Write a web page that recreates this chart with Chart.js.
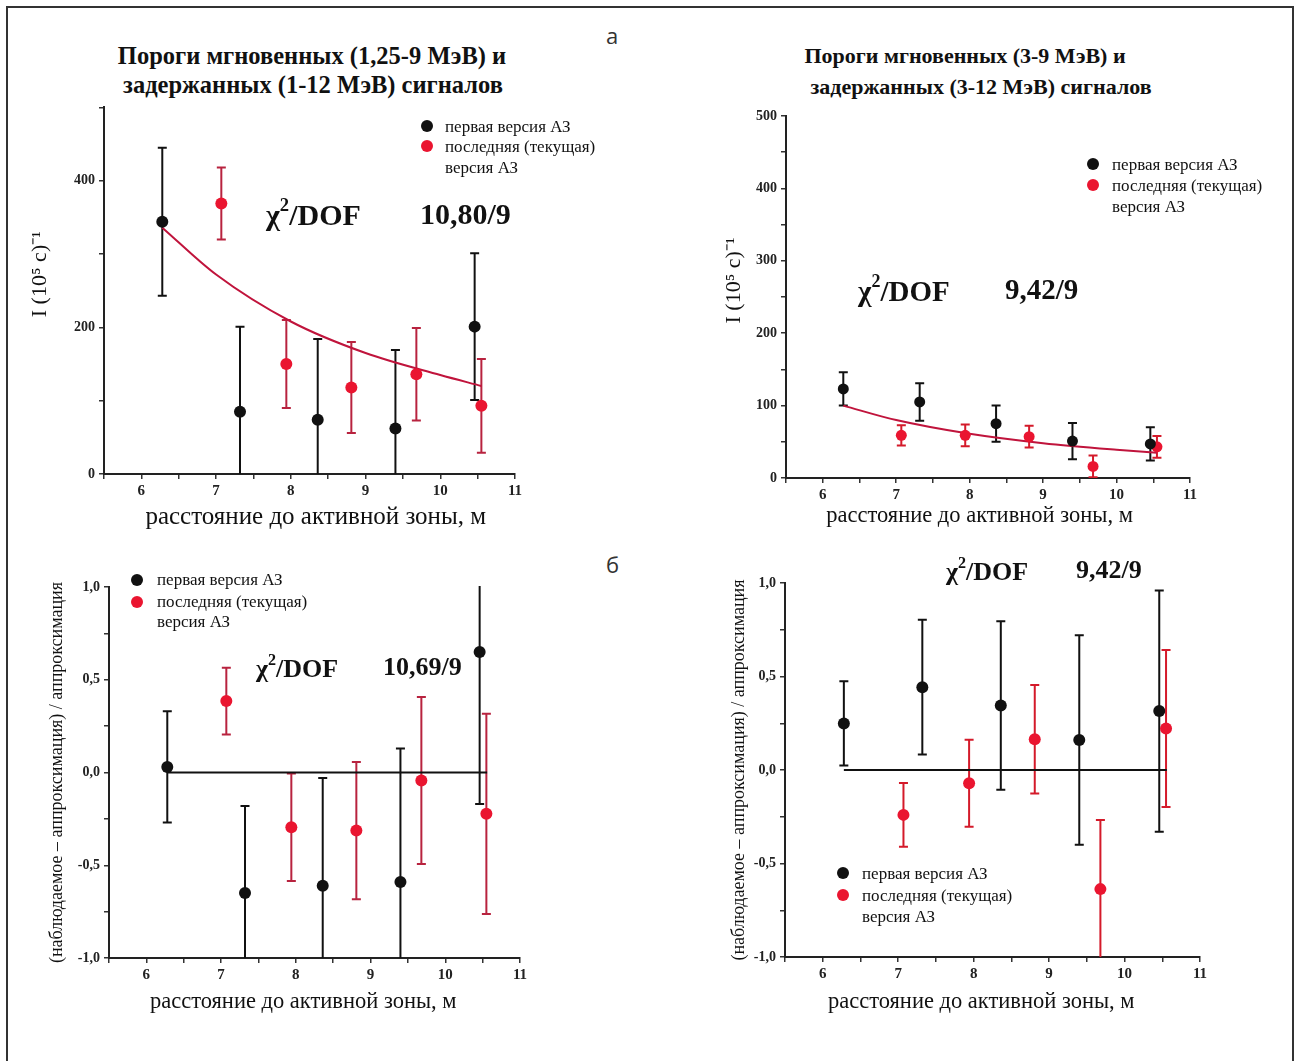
<!DOCTYPE html>
<html lang="ru">
<head>
<meta charset="utf-8">
<script src="https://cdn.jsdelivr.net/npm/chart.js@4.4.1/dist/chart.umd.min.js"></script>
<style>
  body { margin: 0; background: #fff; width: 1297px; height: 1061px; overflow: hidden; position: relative;
         font-family: 'Liberation Serif', 'Times New Roman', serif; }
  .frame { position: absolute; left: 6px; top: 6px; width: 1284px; height: 1100px; border: 2px solid #333; }
  .panel { position: absolute; }
  .txt { position: absolute; white-space: nowrap; color: #111; line-height: 1; }
  .title { font-weight: bold; transform: translateX(-50%); }
  .chi { font-weight: bold; }
  .chi sup { font-size: 0.62em; position: relative; top: -0.15em; }
  .leg { font-size: 17px; }
  .dot { position: absolute; width: 12px; height: 12px; border-radius: 50%; }
  .tag { font-family: 'Open Sans', 'DejaVu Sans', sans-serif; font-size: 22px; color: #333; }
</style>
</head>
<body>
<div class="frame"></div>

<div class="txt tag" style="left:606px;top:24px">а</div>
<div class="txt tag" style="left:606px;top:553px">б</div>

<div class="txt title" style="left:312px;top:44px;font-size:24.5px">Пороги мгновенных (1,25-9 МэВ) и</div>
<div class="txt title" style="left:313px;top:73px;font-size:24.5px">задержанных (1-12 МэВ) сигналов</div>
<div class="txt title" style="left:965px;top:45px;font-size:22px">Пороги мгновенных (3-9 МэВ) и</div>
<div class="txt title" style="left:981px;top:76px;font-size:22px">задержанных (3-12 МэВ) сигналов</div>

<div class="panel" style="left:20px;top:95px"><canvas id="c1" width="520" height="440"></canvas></div>
<div class="panel" style="left:700px;top:100px"><canvas id="c2" width="520" height="440"></canvas></div>
<div class="panel" style="left:20px;top:570px"><canvas id="c3" width="525" height="450"></canvas></div>
<div class="panel" style="left:700px;top:565px"><canvas id="c4" width="525" height="455"></canvas></div>

<!-- chi^2 annotations -->
<div class="txt chi" style="left:266px;top:199px;font-size:30px">χ<sup>2</sup>/DOF</div>
<div class="txt chi" style="left:420px;top:199px;font-size:30px">10,80/9</div>
<div class="txt chi" style="left:858px;top:275px;font-size:29px">χ<sup>2</sup>/DOF</div>
<div class="txt chi" style="left:1005px;top:275px;font-size:29px">9,42/9</div>
<div class="txt chi" style="left:256px;top:654px;font-size:26px">χ<sup>2</sup>/DOF</div>
<div class="txt chi" style="left:383px;top:654px;font-size:26px">10,69/9</div>
<div class="txt chi" style="left:946px;top:557px;font-size:26px">χ<sup>2</sup>/DOF</div>
<div class="txt chi" style="left:1076px;top:557px;font-size:26px">9,42/9</div>

<!-- legends -->
<div class="dot" style="left:421px;top:120px;background:#111"></div>
<div class="dot" style="left:421px;top:140px;background:#ea1530"></div>
<div class="txt leg" style="left:445px;top:118px">первая версия АЗ</div>
<div class="txt leg" style="left:445px;top:138px">последняя (текущая)</div>
<div class="txt leg" style="left:445px;top:159px">версия АЗ</div>

<div class="dot" style="left:1087px;top:158px;background:#111"></div>
<div class="dot" style="left:1087px;top:179px;background:#ea1530"></div>
<div class="txt leg" style="left:1112px;top:156px">первая версия АЗ</div>
<div class="txt leg" style="left:1112px;top:177px">последняя (текущая)</div>
<div class="txt leg" style="left:1112px;top:198px">версия АЗ</div>

<div class="dot" style="left:131px;top:574px;background:#111"></div>
<div class="dot" style="left:131px;top:596px;background:#ea1530"></div>
<div class="txt leg" style="left:157px;top:571px">первая версия АЗ</div>
<div class="txt leg" style="left:157px;top:593px">последняя (текущая)</div>
<div class="txt leg" style="left:157px;top:613px">версия АЗ</div>

<div class="dot" style="left:837px;top:867px;background:#111"></div>
<div class="dot" style="left:837px;top:889px;background:#ea1530"></div>
<div class="txt leg" style="left:862px;top:865px">первая версия АЗ</div>
<div class="txt leg" style="left:862px;top:887px">последняя (текущая)</div>
<div class="txt leg" style="left:862px;top:908px">версия АЗ</div>

<script>
// distances of the detector positions, m
const xFirst = [6.28, 7.32, 8.36, 9.40, 10.46];
const xLast = [7.07, 7.94, 8.81, 9.68, 10.55];

// (a) left: thresholds 1.25-9 / 1-12 MeV
const rateFirstA = [344, 85, 74, 62, 201];
const errFirstA = [101, 116, 110, 107, 100];
const rateLastA = [369, 150, 118, 136, 93];
const errLastA = [49, 60, 62, 63, 64];
const fitXA = [6.28, 7, 8, 9, 10, 10.55];
const fitYA = [336, 272, 208, 165, 135, 120];

// (a) right: thresholds 3-9 / 3-12 MeV
const rateFirstB = [123, 105, 75, 51, 47];
const errFirstB = [23, 26, 25, 25, 23];
const rateLastB = [59, 59, 57, 16, 43];
const errLastB = [14, 15, 15, 15, 15];
const fitXB = [6.28, 7, 8, 9, 10, 10.55];
const fitYB = [100, 80, 61, 48, 39, 35];

// (б) residuals
const resFirstC = [0.03, -0.65, -0.61, -0.59, 0.65];
const errFirstC = [0.30, 0.47, 0.58, 0.72, 0.82];
const resLastC = [0.385, -0.295, -0.313, -0.043, -0.223];
const errLastC = [0.18, 0.29, 0.37, 0.45, 0.54];

const resFirstD = [0.249, 0.443, 0.345, 0.16, 0.315];
const errFirstD = [0.225, 0.36, 0.45, 0.56, 0.645];
const resLastD = [-0.24, -0.071, 0.165, -0.637, 0.222];
const errLastD = [0.17, 0.233, 0.29, 0.37, 0.42];

const zeroX = [6.28, 10.56];
const zeroY = [0, 0];

// no-break spaces nudge the centred axis labels to where the source has them
const NB = n => '\u00a0'.repeat(n);
const X_TITLE = 'расстояние до активной зоны, м';
const Y_TITLE_RATE = NB(6) + 'I (10⁵ с)⁻¹';
const Y_TITLE_RES = '(наблюдаемое – аппроксимация) / аппроксимация';

const RED = '#ea1530';
const BLACK = '#111';

const pts = (xs, ys) => xs.map((x, i) => ({ x: x, y: ys[i] }));

const errorBars = {
    id: 'errorBars',
    beforeDatasetsDraw(chart) {
        const { ctx, chartArea: a, scales: { x, y } } = chart;
        ctx.save();
        ctx.beginPath();
        ctx.rect(a.left, a.top - 1, a.width, a.height + 1);
        ctx.clip();
        chart.data.datasets.forEach(ds => {
            if (!ds.errors) return;
            ctx.strokeStyle = ds.barColor;
            ctx.lineWidth = ds.barWidth;
            ds.data.forEach((p, i) => {
                const e = ds.errors[i];
                const px = x.getPixelForValue(p.x);
                const top = y.getPixelForValue(p.y + e);
                const bot = y.getPixelForValue(p.y - e);
                ctx.beginPath();
                ctx.moveTo(px, top);
                ctx.lineTo(px, bot);
                ctx.moveTo(px - 4.5, top);
                ctx.lineTo(px + 4.5, top);
                ctx.moveTo(px - 4.5, bot);
                ctx.lineTo(px + 4.5, bot);
                ctx.stroke();
            });
        });
        ctx.restore();
    }
};

function pointSet(xs, ys, errs, color, barColor, r) {
    return {
        data: pts(xs, ys),
        errors: errs,
        barColor: barColor,
        barWidth: 2,
        backgroundColor: color,
        borderColor: color,
        pointRadius: r,
        borderWidth: 0,
        showLine: false,
        order: 0
    };
}

function lineSet(xs, ys, color) {
    return {
        data: pts(xs, ys),
        borderColor: color,
        borderWidth: 2,
        pointRadius: 0,
        showLine: true,
        cubicInterpolationMode: 'monotone',
        order: 2
    };
}

function makeChart(id, datasets, o) {
    new Chart(document.getElementById(id), {
        type: 'scatter',
        data: { datasets: datasets },
        plugins: [errorBars],
        options: {
            responsive: false,
            animation: false,
            events: [],
            layout: { padding: { top: o.pt, right: o.pr, left: 0, bottom: 0 } },
            plugins: { legend: { display: false }, tooltip: { enabled: false } },
            scales: {
                x: {
                    type: 'linear',
                    min: 5.5,
                    max: 11,
                    afterFit: s => { s.height = o.hx; },
                    ticks: {
                        stepSize: 0.5,
                        autoSkip: false,
                        maxRotation: 0,
                        padding: 3,
                        color: '#222',
                        font: { family: 'Liberation Serif', size: 15, weight: 'bold' },
                        callback: v => Number.isInteger(v) ? String(v) : ''
                    },
                    grid: { drawOnChartArea: false, tickLength: 5, color: '#333', lineWidth: 1.5 },
                    border: { color: '#222', width: 2 },
                    title: {
                        display: true,
                        text: o.xtitle,
                        color: '#111',
                        font: { family: 'Liberation Serif', size: o.xfs },
                        padding: { top: 0, bottom: o.xpb }
                    }
                },
                y: {
                    type: 'linear',
                    min: o.ymin,
                    max: o.ymax,
                    afterFit: s => { s.width = o.wy; },
                    ticks: {
                        stepSize: o.step,
                        autoSkip: false,
                        padding: 4,
                        color: '#222',
                        font: { family: 'Liberation Serif', size: 14, weight: 'bold' },
                        callback: o.label
                    },
                    grid: { drawOnChartArea: false, tickLength: 5, color: '#333', lineWidth: 1.5 },
                    border: { color: '#222', width: 2 },
                    title: {
                        display: true,
                        text: o.ytitle,
                        color: '#111',
                        font: { family: 'Liberation Serif', size: o.yfs },
                        padding: { top: o.ypt, bottom: 0 }
                    }
                }
            }
        }
    });
}

const every = n => v => (Math.abs(v / n - Math.round(v / n)) < 1e-6 ? String(v) : '');
const resLabel = v => (Math.abs(v * 2 - Math.round(v * 2)) < 1e-6 ? v.toFixed(1).replace('.', ',') : '');

makeChart('c1', [
    pointSet(xFirst, rateFirstA, errFirstA, BLACK, BLACK, 6),
    pointSet(xLast, rateLastA, errLastA, RED, '#b8233f', 6),
    lineSet(fitXA, fitYA, '#c0143c')
], { pt: 10, pr: 25, wy: 84, hx: 61, ymin: 0, ymax: 500, step: 100, label: every(200),
     xtitle: NB(2) + X_TITLE, ytitle: Y_TITLE_RATE, yfs: 22, ypt: 7, xfs: 25, xpb: 3 });

makeChart('c2', [
    pointSet(xFirst, rateFirstB, errFirstB, BLACK, BLACK, 5.5),
    pointSet(xLast, rateLastB, errLastB, RED, '#d41a2a', 5.5),
    lineSet(fitXB, fitYB, '#c0143c')
], { pt: 16, pr: 30, wy: 86, hx: 62, ymin: 0, ymax: 500, step: 50, label: every(100),
     xtitle: X_TITLE + NB(3), ytitle: Y_TITLE_RATE, yfs: 22, ypt: 21, xfs: 22.5, xpb: 10 });

makeChart('c3', [
    pointSet(xFirst, resFirstC, errFirstC, BLACK, BLACK, 6),
    pointSet(xLast, resLastC, errLastC, RED, '#b8233f', 6),
    lineSet(zeroX, zeroY, BLACK)
], { pt: 17, pr: 25, wy: 89, hx: 62, ymin: -1, ymax: 1, step: 0.25, label: resLabel,
     xtitle: X_TITLE + NB(4), ytitle: Y_TITLE_RES, yfs: 18, ypt: 26, xfs: 22.5, xpb: 4 });

makeChart('c4', [
    pointSet(xFirst, resFirstD, errFirstD, BLACK, BLACK, 6),
    pointSet(xLast, resLastD, errLastD, RED, '#d41a2a', 6),
    lineSet(zeroX, zeroY, BLACK)
], { pt: 18, pr: 25, wy: 85, hx: 63, ymin: -1, ymax: 1, step: 0.25, label: resLabel,
     xtitle: X_TITLE + NB(4), ytitle: Y_TITLE_RES, yfs: 18, ypt: 28, xfs: 22.5, xpb: 4 });
</script>
</body>
</html>
